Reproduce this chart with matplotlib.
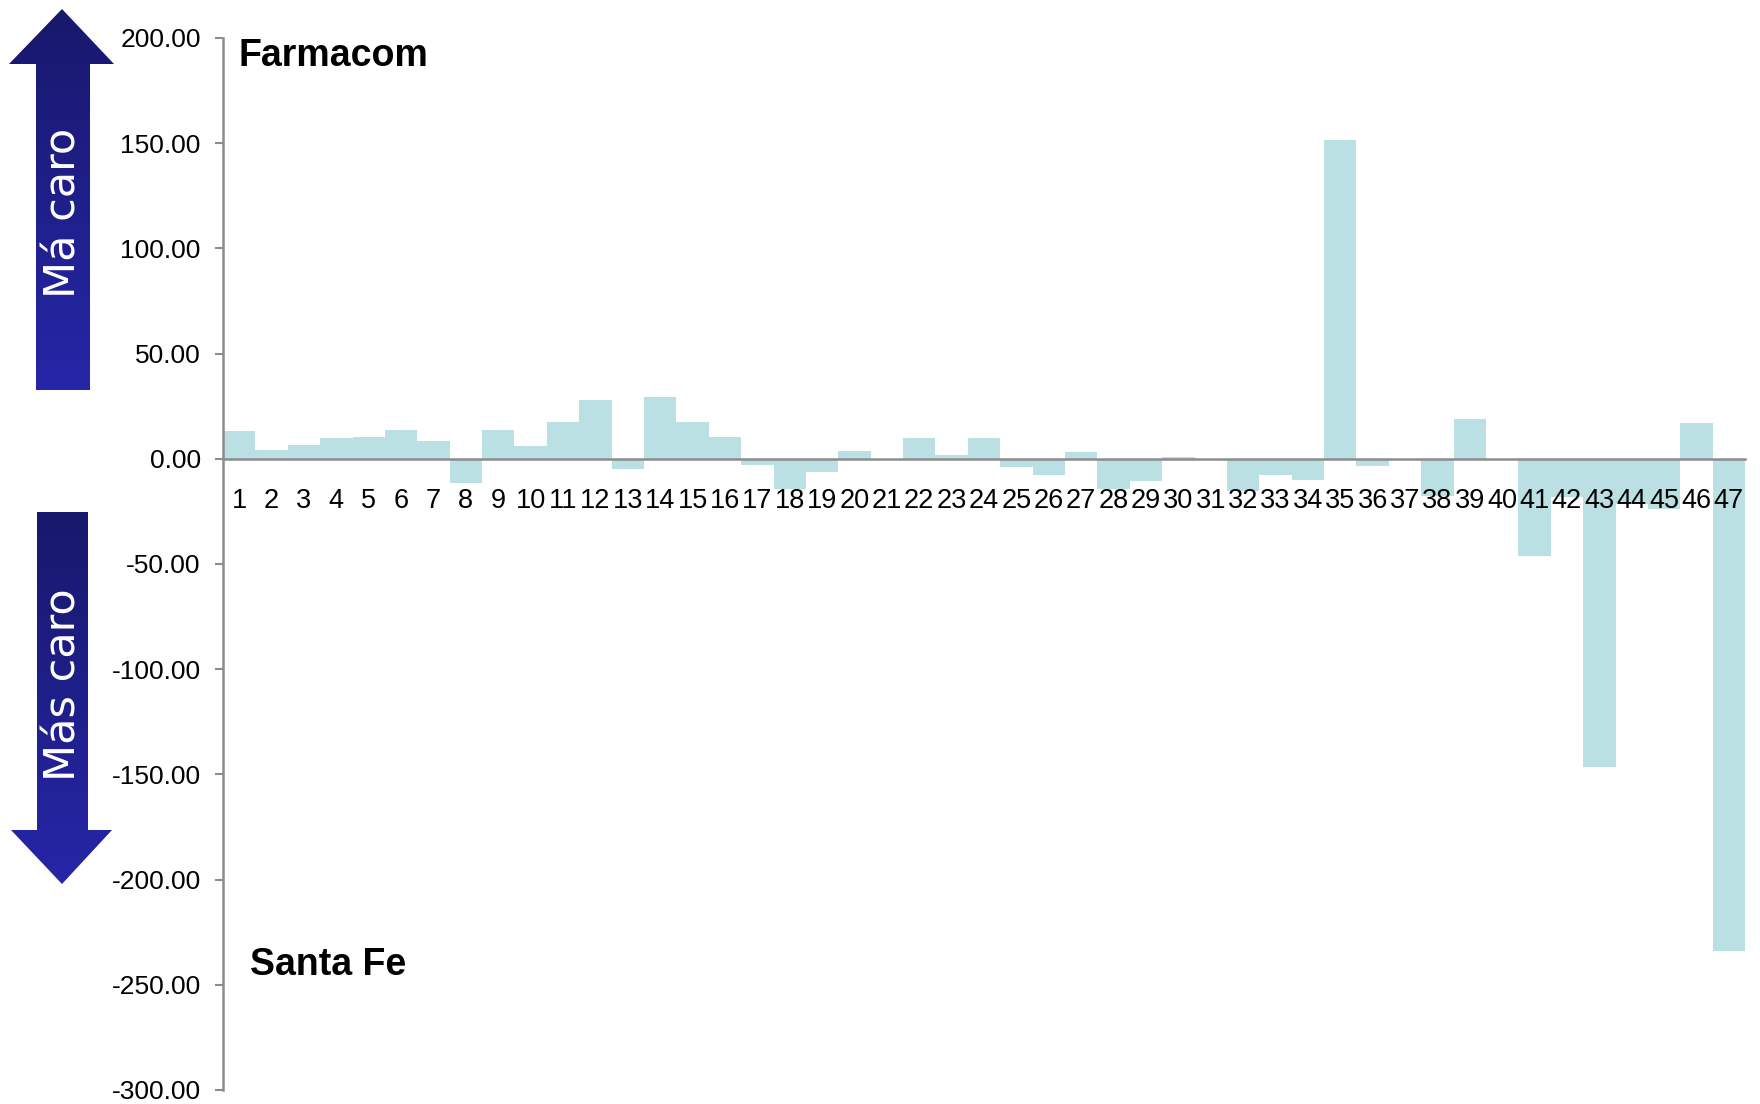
import matplotlib.pyplot as plt
import numpy as np
from matplotlib.patches import Polygon

plt.rcParams['font.family'] = ['Liberation Sans', 'DejaVu Sans']
plt.rcParams['axes.unicode_minus'] = False

# diferencias de precio por producto
productos = np.arange(1, 48)
diferencia = [13.3, 4.1, 6.5, 9.8, 10.5, 13.6, 8.6, -11.7, 13.9, 6.2,
              17.4, 28.0, -4.9, 29.3, 17.4, 10.3, -2.9, -14.3, -6.2, 3.6,
              0.0, 10.1, 1.9, 9.8, -3.8, -7.6, 3.0, -14.3, -10.5, 0.8,
              0.0, -15.5, -7.6, -10.1, 151.5, -3.2, 0.0, -17.9, 19.0, 0.0,
              -46.4, -18.2, -146.7, -21.7, -23.8, 16.8, -234.0]
etiquetas = [str(p) for p in productos]
yticks = np.arange(-300, 201, 50)

gris = '#8c8c8c'
fig = plt.figure(figsize=(17.6, 11.04), dpi=100)
ax = fig.add_axes([0.1267, 0.0127, 0.8648, 0.9529])

ax.bar(productos, diferencia, width=1.0, color='#bae0e3', edgecolor='none')
ax.set_xlim(0.5, 47.5)
ax.set_ylim(-300, 200)

ax.spines['bottom'].set_position(('data', 0))
for s in ['top', 'right']:
    ax.spines[s].set_visible(False)
for s in ['left', 'bottom']:
    ax.spines[s].set_color(gris)
    ax.spines[s].set_linewidth(1.8)

ax.set_yticks(yticks)
ax.set_yticklabels(['%.2f' % t for t in yticks])
ax.set_xticks(productos)
ax.set_xticklabels(etiquetas)
ax.tick_params(axis='x', length=0, pad=21, labelsize=19.5)
ax.tick_params(axis='y', length=6, width=1.5, color=gris, pad=10, labelsize=19)

ax.text(0.0105, 0.983, 'Farmacom', transform=ax.transAxes, fontsize=27,
        fontweight='bold', va='center', ha='left')
ax.text(0.018, 0.119, 'Santa Fe', transform=ax.transAxes, fontsize=27,
        fontweight='bold', va='center', ha='left')

# flechas a la izquierda, en pixeles de la figura
fx = fig.add_axes([0, 0, 1, 1], zorder=5)
fx.set_xlim(0, 1760)
fx.set_ylim(1104, 0)
fx.axis('off')

def flecha(puntos, y0, y1):
    grad = np.linspace(0, 1, 256).reshape(-1, 1)
    im = fx.imshow(grad, cmap=plt.matplotlib.colors.LinearSegmentedColormap.from_list(
        'azul', ['#18186c', '#2626a8']), extent=[0, 1760, y1, y0], aspect='auto')
    p = Polygon(puntos, closed=True, facecolor='none', edgecolor='none')
    fx.add_patch(p)
    im.set_clip_path(p)

flecha([(62, 9), (114, 64), (90, 64), (90, 390), (36, 390), (36, 64), (9, 64)], 9, 390)
flecha([(37, 512), (88, 512), (88, 830), (112, 830), (62, 884), (11, 830), (37, 830)], 512, 884)

fx.text(64, 213, 'Má caro', color='white', fontsize=31, rotation=90,
        ha='center', va='center', family=['Liberation Sans Narrow', 'DejaVu Sans'])
fx.text(64, 685, 'Más caro', color='white', fontsize=31, rotation=90,
        ha='center', va='center', family=['Liberation Sans Narrow', 'DejaVu Sans'])

fig.savefig('out.png')
